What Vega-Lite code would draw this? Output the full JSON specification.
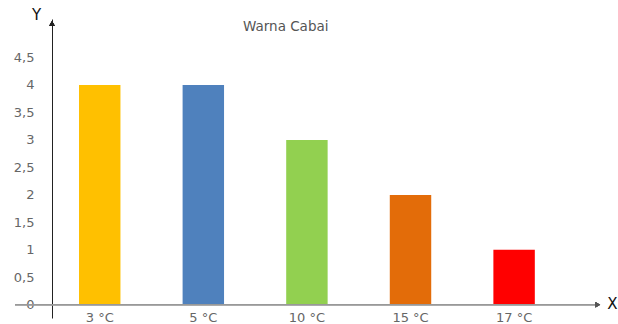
{
  "$schema": "https://vega.github.io/schema/vega-lite/v6.json",
  "width": 548,
  "height": 299,
  "autosize": {"type": "none"},
  "padding": {"left": 52, "top": 19, "right": 18, "bottom": 6},
  "background": "white",
  "config": {"view": {"stroke": null}, "font": "DejaVu Sans"},
  "title": {
    "text": "Warna Cabai",
    "anchor": "start",
    "frame": "group",
    "dx": 191,
    "offset": -26,
    "fontSize": 13.5,
    "fontWeight": "normal",
    "color": "#555555",
    "font": "DejaVu Sans"
  },
  "data": {
    "values": [
      {"suhu": "3 °C", "nilai": 4},
      {"suhu": "5 °C", "nilai": 4},
      {"suhu": "10 °C", "nilai": 3},
      {"suhu": "15 °C", "nilai": 2},
      {"suhu": "17 °C", "nilai": 1}
    ]
  },
  "resolve": {"scale": {"x": "independent"}, "axis": {"x": "independent"}},
  "layer": [
    {
      "mark": {"type": "bar"},
      "encoding": {
        "x": {
          "field": "suhu",
          "type": "nominal",
          "sort": null,
          "scale": {"paddingInner": 0.6, "paddingOuter": 0.445, "align": 0.293},
          "axis": {
            "title": "X",
            "titleX": 560,
            "titleY": -2,
            "titleBaseline": "middle",
            "titleAlign": "center",
            "titleFontSize": 15,
            "titleFontWeight": "normal",
            "titleColor": "#111111",
            "titleFont": "DejaVu Sans",
            "offset": -13,
            "domain": false,
            "ticks": false,
            "labelAngle": 0,
            "labelPadding": 6,
            "labelFontSize": 13,
            "labelColor": "#666666",
            "labelFont": "DejaVu Sans"
          }
        },
        "y": {
          "field": "nilai",
          "type": "quantitative",
          "scale": {"domain": [-0.24, 5.2], "nice": false, "zero": false},
          "axis": {
            "values": [0, 0.5, 1, 1.5, 2, 2.5, 3, 3.5, 4, 4.5],
            "tickCount": 20,
            "format": "~g",
            "labelExpr": "replace(datum.label, '.', ',')",
            "labelOverlap": false,
            "grid": false,
            "ticks": false,
            "domainColor": "#222222",
            "domainWidth": 1,
            "labelPadding": 18,
            "labelFontSize": 13,
            "labelColor": "#666666",
            "labelFont": "DejaVu Sans",
            "title": "Y",
            "titleAngle": 0,
            "titleX": -16,
            "titleY": -5,
            "titleAlign": "center",
            "titleBaseline": "middle",
            "titleFontSize": 15,
            "titleFontWeight": "normal",
            "titleColor": "#111111",
            "titleFont": "DejaVu Sans"
          }
        },
        "color": {
          "field": "suhu",
          "type": "nominal",
          "sort": null,
          "scale": {"range": ["#FFC000", "#4F81BD", "#92D050", "#E36C09", "#FF0000"]},
          "legend": null
        }
      }
    },
    {
      "mark": {"type": "rule", "color": "#999999", "strokeWidth": 1},
      "encoding": {
        "x": {"datum": -0.0675, "type": "quantitative", "scale": {"domain": [0, 1]}, "axis": null},
        "x2": {"datum": 0.995},
        "y": {"datum": 0, "type": "quantitative"}
      }
    },
    {
      "mark": {"type": "point", "shape": "triangle-right", "filled": true, "color": "#555555", "size": 30, "opacity": 1},
      "encoding": {
        "x": {"datum": 0.996, "type": "quantitative", "scale": {"domain": [0, 1]}, "axis": null},
        "y": {"datum": 0, "type": "quantitative"}
      }
    },
    {
      "mark": {"type": "point", "shape": "triangle-up", "filled": true, "color": "#222222", "size": 30, "opacity": 1},
      "encoding": {
        "x": {"datum": 0, "type": "quantitative", "scale": {"domain": [0, 1]}, "axis": null},
        "y": {"datum": 5.12, "type": "quantitative"}
      }
    }
  ]
}
